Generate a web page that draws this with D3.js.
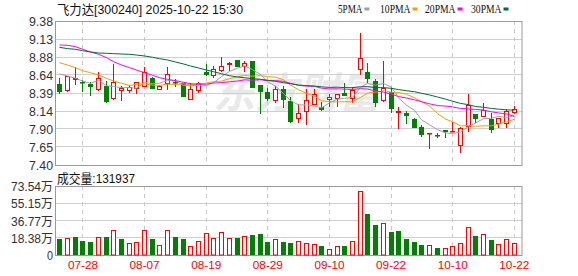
<!DOCTYPE html>
<html><head><meta charset="utf-8">
<script src="https://cdn.jsdelivr.net/npm/d3@7"></script>
<style>body{margin:0;background:#fff}svg{display:block}</style>
</head><body><svg id="c" width="578" height="276"></svg>
<script>
const dates = ["07-23","07-24","07-25","07-28","07-29","07-30","07-31","08-01","08-04","08-05","08-06","08-07","08-08","08-11","08-12","08-13","08-14","08-15","08-18","08-19","08-20","08-21","08-22","08-25","08-26","08-27","08-28","08-29","09-01","09-02","09-03","09-04","09-05","09-08","09-09","09-10","09-11","09-12","09-15","09-16","09-17","09-18","09-19","09-22","09-23","09-24","09-25","09-26","09-29","09-30","10-09","10-10","10-13","10-14","10-15","10-16","10-17","10-20","10-21","10-22"];
const open  = [8.510,8.422,8.565,8.548,8.514,8.427,8.486,8.304,8.417,8.422, 8.449,8.477,8.596,8.431,8.514,8.545,8.528,8.294,8.417,8.679, 8.628,8.688,8.775,8.840,8.748,8.830,8.500,8.400,8.280,8.441, 8.280,8.028,8.133,8.225,8.202,8.294,8.304,8.390,8.304,8.702, 8.683,8.559,8.270,8.408,8.111,8.111,8.028,7.918,7.826,7.818, 7.881,7.850,7.652,7.922,8.101,8.056,8.037,7.964,7.973,8.115];
const high  = [8.592,8.630,8.748,8.569,8.545,8.679,8.559,8.785,8.486,8.496, 8.545,8.748,8.615,8.504,8.748,8.587,8.530,8.532,8.545,8.789, 8.761,8.889,8.820,8.842,8.830,8.832,8.500,8.455,8.486,8.486, 8.339,8.235,8.441,8.441,8.270,8.376,8.375,8.523,8.468,9.211, 8.807,8.579,8.830,8.468,8.202,8.143,8.046,7.950,7.844,7.844, 7.881,7.987,7.927,8.372,8.101,8.248,8.111,8.045,8.170,8.215];
const low   = [8.380,8.408,8.496,8.408,8.349,8.420,8.257,8.300,8.284,8.394, 8.376,8.469,8.441,8.428,8.431,8.468,8.337,8.290,8.386,8.630, 8.596,8.685,8.692,8.742,8.683,8.460,8.097,8.280,8.257,8.188, 7.973,7.973,7.950,8.220,8.143,8.193,8.193,8.343,8.248,8.638, 8.532,8.202,8.268,8.111,7.899,7.968,7.903,7.789,7.616,7.767, 7.767,7.848,7.569,7.858,7.982,8.054,7.836,7.905,7.905,8.101];
const close = [8.400,8.628,8.592,8.534,8.468,8.592,8.266,8.537,8.455,8.472, 8.541,8.679,8.449,8.486,8.647,8.535,8.339,8.441,8.528,8.631, 8.720,8.757,8.798,8.743,8.803,8.463,8.408,8.304,8.449,8.284, 7.987,8.111,8.294,8.372,8.166,8.331,8.372,8.345,8.431,8.867, 8.592,8.257,8.455,8.180,8.143,8.074,7.905,7.808,7.836,7.808, 7.850,7.868,7.905,8.225,8.037,8.152,7.891,8.042,8.147,8.170];
const prevClose = 8.520;
// volume in 万
const volume = [16.6,18.4,19.4,15.2,14.1,19.4,19.4,26.8,17.3,12.7, 13.8,26.8,17.3,10.6,26.8,19.4,17.3,9.5,15.2,23.3, 18.0,24.4,18.4,18.4,20.2,21.5,22.6,14.1,17.3,14.1, 13.0,15.2,13.0,12.0,9.9,6.7,9.9,9.9,15.2,67.9, 43.8,32.2,34.0,24.7,25.8,17.3,14.1,10.8,10.6,7.7, 7.7,9.5,12.7,29.7,20.5,22.3,16.2,11.7,17.0,13.19];
const ma5  = [8.651,8.624,8.592,8.555,8.524,8.563,8.490,8.479,8.464,8.464, 8.454,8.537,8.519,8.525,8.560,8.559,8.491,8.490,8.498,8.495, 8.532,8.615,8.687,8.730,8.764,8.713,8.643,8.544,8.485,8.382, 8.286,8.227,8.225,8.210,8.186,8.255,8.307,8.317,8.329,8.469, 8.521,8.498,8.520,8.470,8.325,8.222,8.151,8.022,7.953,7.886, 7.841,7.834,7.853,7.931,7.977,8.037,8.042,8.069,8.054,8.080];
const ma10 = [8.807,8.775,8.738,8.697,8.669,8.638,8.592,8.555,8.523,8.494, 8.509,8.514,8.499,8.495,8.512,8.507,8.514,8.504,8.512,8.528, 8.546,8.553,8.588,8.614,8.630,8.622,8.629,8.616,8.608,8.573, 8.500,8.435,8.385,8.348,8.284,8.271,8.267,8.271,8.269,8.328, 8.388,8.403,8.419,8.400,8.397,8.372,8.325,8.271,8.212,8.106, 8.032,7.993,7.938,7.942,7.932,7.939,7.938,7.961,7.993,8.029];
const ma20 = [9.050,9.046,9.027,8.991,8.954,8.922,8.876,8.821,8.775,8.738, 8.706,8.669,8.633,8.600,8.578,8.559,8.537,8.518,8.510,8.511, 8.527,8.533,8.544,8.554,8.571,8.565,8.572,8.560,8.560,8.550, 8.523,8.494,8.486,8.481,8.457,8.446,8.448,8.443,8.438,8.450, 8.444,8.419,8.402,8.374,8.341,8.321,8.296,8.271,8.241,8.217, 8.210,8.198,8.178,8.171,8.164,8.156,8.131,8.116,8.102,8.067];
const ma30 = [9.018,9.000,8.991,8.972,8.954,8.940,8.936,8.931,8.926,8.922, 8.912,8.899,8.881,8.862,8.844,8.816,8.789,8.761,8.734,8.706, 8.683,8.655,8.628,8.610,8.600,8.587,8.578,8.565,8.551,8.532, 8.518,8.501,8.491,8.485,8.475,8.467,8.470,8.464,8.463,8.476, 8.478,8.464,8.464,8.454,8.437,8.422,8.407,8.386,8.363,8.335, 8.306,8.277,8.247,8.230,8.204,8.194,8.177,8.168,8.158,8.154];
const priceTicks = [7.40,7.65,7.90,8.14,8.39,8.64,8.88,9.13,9.38];
const volTicks = [0,18.38,36.77,55.15,73.54];
const dateTicks = ["07-28","08-07","08-19","08-29","09-10","09-22","10-10","10-22"];
const maNames = ["5PMA","10PMA","20PMA","30PMA"];
const titleText = "飞力达[300240] 2025-10-22 15:30";
const volTitle = "成交量:131937";
const watermark = "东方财富";

const RED = "#ff0000", GREEN = "#008000";
const maColors = ["#a0a0a0","#f0a000","#ff00ff","#006b3a"];
const maData = [ma5, ma10, ma20, ma30];

const L = 56, R = 522, PT = 21, PB = 165, VT = 186, VB = 255;
const svg = d3.select("#c");
const n = dates.length;
const x = d3.scaleBand().domain(d3.range(n)).range([L, 518.2]);
const cx = i => Math.floor(x(i) + x.bandwidth() / 2) + 0.5;
const yP = d3.scaleLinear().domain([7.40, 9.38]).range([PB, PT]);
const yV = d3.scaleLinear().domain([0, 73.54]).range([VB, VT]);
const px = v => Math.floor(v) + 0.5;
const tickIdx = dateTicks.map(d => dates.indexOf(d));

// watermark
svg.append("text").attr("x", 297).attr("y", 108).attr("text-anchor", "middle")
  .attr("font-family", "Noto Sans CJK SC").attr("font-size", 42).attr("font-style", "italic")
  .attr("font-weight", "bold").attr("fill", "#e9e9e9").text(watermark);

// grids
const grid = svg.append("g");
priceTicks.forEach(t => grid.append("line").attr("x1", L).attr("x2", R)
  .attr("y1", px(yP(t))).attr("y2", px(yP(t))).attr("stroke", "#cfcfcf"));
volTicks.forEach(t => grid.append("line").attr("x1", L).attr("x2", R)
  .attr("y1", px(yV(t))).attr("y2", px(yV(t))).attr("stroke", "#cfcfcf"));
tickIdx.forEach(i => {
  [[PT, PB], [VT, VB]].forEach(([a, b]) => grid.append("line").attr("x1", cx(i)).attr("x2", cx(i))
    .attr("y1", a).attr("y2", b).attr("stroke", "#c8c8c8").attr("stroke-dasharray", "4,4"));
});

// frames
svg.append("rect").attr("x", L - 0.5).attr("y", PT + 0.5).attr("width", R - L + 0.5).attr("height", PB - PT)
  .attr("fill", "none").attr("stroke", "#999");
svg.append("rect").attr("x", L - 0.5).attr("y", VT + 0.5).attr("width", R - L + 0.5).attr("height", VB - VT)
  .attr("fill", "none").attr("stroke", "#999");

// candles
const cg = svg.append("g");
d3.range(n).forEach(i => {
  const up = close[i] >= open[i];
  const col = up ? RED : GREEN;
  const c = cx(i);
  const top = yP(Math.max(open[i], close[i])), bot = yP(Math.min(open[i], close[i]));
  const h = Math.max(1, Math.round(bot - top));
  const ty = Math.round(top);
  if (up) {
    cg.append("line").attr("x1", c).attr("x2", c).attr("y1", Math.round(yP(high[i]))).attr("y2", ty).attr("stroke", col);
    cg.append("line").attr("x1", c).attr("x2", c).attr("y1", ty + h).attr("y2", Math.round(yP(low[i]))).attr("stroke", col);
    if (h <= 1) cg.append("rect").attr("x", c - 2.5).attr("y", ty).attr("width", 5).attr("height", 1.5).attr("fill", col);
    else cg.append("rect").attr("x", c - 2).attr("y", ty + 0.5).attr("width", 4).attr("height", h - 1)
      .attr("fill", "#fff").attr("stroke", col);
  } else {
    cg.append("line").attr("x1", c).attr("x2", c).attr("y1", Math.round(yP(high[i]))).attr("y2", Math.round(yP(low[i]))).attr("stroke", col);
    cg.append("rect").attr("x", c - 2.5).attr("y", ty).attr("width", 5).attr("height", Math.max(1.5, h)).attr("fill", col);
  }
});

// MA lines
maData.forEach((arr, k) => {
  svg.append("path").datum(arr).attr("fill", "none").attr("stroke", maColors[k]).attr("stroke-width", 1)
    .attr("d", d3.line().x((d, i) => cx(i)).y(d => yP(d)));
});

// volume bars
const vg = svg.append("g");
d3.range(n).forEach(i => {
  const pc = i === 0 ? prevClose : close[i - 1];
  const up = close[i] >= pc;
  const c = cx(i);
  const t = Math.round(yV(volume[i]));
  if (up) vg.append("rect").attr("x", c - 2).attr("y", t + 0.5).attr("width", 4).attr("height", VB - t - 0.5)
    .attr("fill", "#fff").attr("stroke", RED);
  else vg.append("rect").attr("x", c - 2.5).attr("y", t).attr("width", 5).attr("height", VB - t).attr("fill", GREEN);
});

// axes
const fitText = (sel, font, per) => sel.each(function () {
  const s = d3.select(this).text();
  let w = 0; for (const ch of s) w += /[\u4e00-\u9fff]/.test(ch) ? per * 2 : per;
  d3.select(this).attr("textLength", w).attr("lengthAdjust", "spacingAndGlyphs");
});
const ya = svg.append("g").attr("transform", "translate(53,0)")
  .call(d3.axisLeft(yP).tickValues(priceTicks).tickFormat(d3.format(".2f")).tickSize(0).tickPadding(0));
const yv = svg.append("g").attr("transform", "translate(53,0)")
  .call(d3.axisLeft(yV).tickValues(volTicks).tickFormat(d => d === 0 ? "0" : d3.format(".2f")(d) + "万").tickSize(0).tickPadding(0));
[ya, yv].forEach(g => {
  g.select(".domain").remove();
  g.selectAll("text").attr("font-family", "Liberation Sans, Noto Sans CJK SC").attr("font-size", 12.5)
    .attr("fill", "#333").attr("dy", "0.36em").call(fitText, "", 6);
});
const xa = svg.append("g").attr("transform", `translate(0,${VB})`)
  .call(d3.axisBottom(x).tickValues(tickIdx).tickFormat(i => dates[i]).tickSize(0).tickPadding(7));
xa.select(".domain").remove();
xa.selectAll("text").attr("font-family", "Liberation Sans").attr("font-size", 10.5).attr("fill", RED).call(fitText, "", 6);

// title & labels
svg.append("text").attr("x", 57).attr("y", 13.5).attr("font-family", "Liberation Sans, Noto Sans CJK SC")
  .attr("font-size", 13).attr("fill", "#111").text(titleText).call(fitText, "", 6);
svg.append("text").attr("x", 57).attr("y", 183).attr("font-family", "Liberation Sans, Noto Sans CJK SC")
  .attr("font-size", 13).attr("fill", "#111").text(volTitle).call(fitText, "", 6);

// legend
const legX = [338, 380, 425, 471];
maNames.forEach((nm, k) => {
  const t = svg.append("text").attr("x", legX[k]).attr("y", 12.7).attr("font-family", "Liberation Serif")
    .attr("font-size", 11.5).attr("fill", "#111").text(nm).call(fitText, "", 6.1);
  const w = nm.length * 6.1;
  svg.append("rect").attr("x", legX[k] + w + 2).attr("y", 7.5).attr("width", 5).attr("height", 3).attr("fill", maColors[k]);
});
</script></body></html>
